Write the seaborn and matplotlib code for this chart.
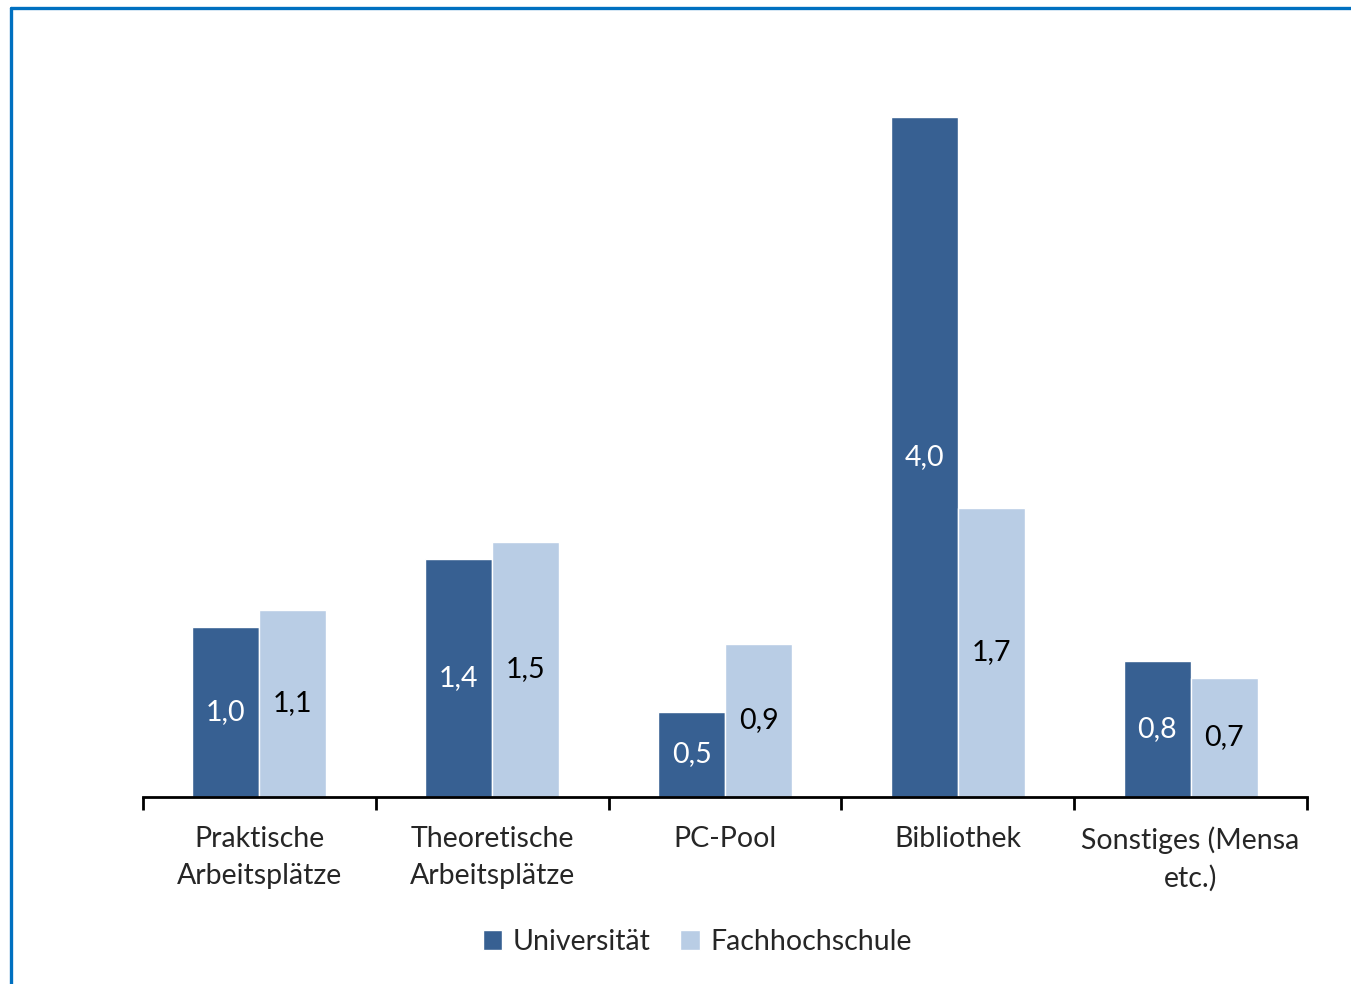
import matplotlib
matplotlib.use("Agg")
import matplotlib.pyplot as plt
import matplotlib.lines as mlines
import seaborn as sns
import pandas as pd
import numpy as np

categories = ["Praktische\nArbeitsplätze", "Theoretische\nArbeitsplätze", "PC-Pool",
              "Bibliothek", "Sonstiges (Mensa\netc.)"]
universitaet = [1.0, 1.4, 0.5, 4.0, 0.8]
fachhochschule = [1.1, 1.5, 0.9, 1.7, 0.7]
series_names = ["Universität", "Fachhochschule"]
colors = ["#376092", "#B9CDE5"]

df = pd.DataFrame({
    "Kategorie": categories * 2,
    "Wert": universitaet + fachhochschule,
    "Hochschule": [series_names[0]] * 5 + [series_names[1]] * 5,
})

sns.set_theme(style="white")
plt.rcParams["font.family"] = ["Lato", "DejaVu Sans"]

FS = 20.5
W, H = 1351, 984
fig = plt.figure(figsize=(W / 100, H / 100), dpi=100)
ax = fig.add_axes([143 / W, 1 - 797 / H, (1307 - 143) / W, (797 - 32) / H])

sns.barplot(data=df, x="Kategorie", y="Wert", hue="Hochschule",
            palette=colors, width=0.575, saturation=1, ax=ax, legend=True)

ax.set_ylim(0, 4.5)
ax.set_xlim(-0.5, 4.5)

# value labels centered in each bar
for container, color in zip(ax.containers, ["white", "black"]):
    labels = [f"{v:.1f}".replace(".", ",") for v in container.datavalues]
    ax.bar_label(container, labels=labels, label_type="center",
                 color=color, fontsize=FS)

# axes styling: only baseline, ticks at category boundaries
for side in ["left", "right", "top"]:
    ax.spines[side].set_visible(False)
ax.spines["bottom"].set_color("black")
ax.spines["bottom"].set_linewidth(2)
ax.set_yticks([])
ax.set_xlabel("")
ax.set_ylabel("")
ax.set_xticks(range(len(categories)))
ax.set_xticklabels(categories, fontsize=FS, linespacing=1.5)
ax.tick_params(axis="x", which="major", length=0, pad=21)
ax.set_xticks(np.arange(-0.5, len(categories), 1.0), minor=True)
ax.tick_params(axis="x", which="minor", length=9, width=2, color="black",
               direction="out", bottom=True)

leg = ax.legend(loc="center", bbox_to_anchor=(0.476, (797 - 942) / (797 - 32)),
                ncol=2, frameon=False, fontsize=FS, handlelength=0.7,
                handleheight=0.7, handletextpad=0.35, columnspacing=1.05)

# outer frame lines (left and top)
fig.add_artist(mlines.Line2D([10.5 / W, 10.5 / W], [0, 1 - 7.5 / H],
                             transform=fig.transFigure, color="#0070C0", lw=2.4))
fig.add_artist(mlines.Line2D([10.5 / W, 1], [1 - 7.5 / H, 1 - 7.5 / H],
                             transform=fig.transFigure, color="#0070C0", lw=2.4))

fig.savefig("out.png", dpi=100, facecolor="white")
